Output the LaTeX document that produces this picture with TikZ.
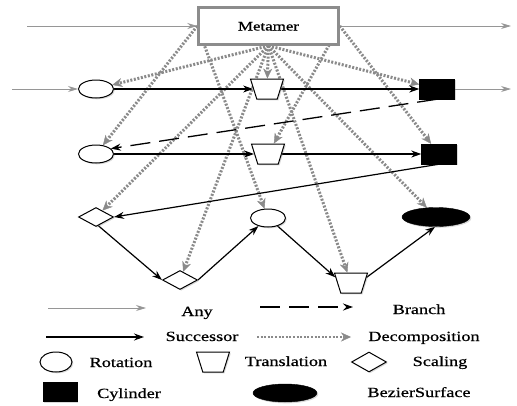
\documentclass[tikz,border=0pt]{standalone}
\usepackage{fontspec}
\usepackage{graphicx}
\setmainfont{Liberation Serif}[FakeBold=0.6]
\usetikzlibrary{shapes.geometric,arrows.meta,shadows,backgrounds}
\definecolor{anygray}{RGB}{150,150,150}
\definecolor{decgray}{RGB}{138,138,138}
\definecolor{boxgray}{RGB}{140,140,140}
\newcommand{\wtxt}[1]{\scalebox{1.3}[1]{#1}}
\begin{document}
\begin{tikzpicture}[x=1pt,y=-1pt,
  font=\fontsize{14}{16}\selectfont,
  shd/.style={drop shadow={shadow xshift=1.3pt, shadow yshift=-1.3pt, opacity=0.3}},
  shp/.style={draw=black, line width=1pt, fill=white, inner sep=0pt, shd},
  rot/.style={shp, ellipse, minimum width=35pt, minimum height=18pt},
  trans/.style={shp, trapezium, shape border rotate=180, trapezium left angle=73,
    trapezium right angle=73, trapezium stretches=true, inner sep=1pt, minimum width=33pt, minimum height=20pt},
  scal/.style={shp, diamond, minimum width=35pt, minimum height=19pt},
  cyl/.style={draw=black, fill=black, minimum width=35pt, minimum height=20pt, inner sep=0pt, shd},
  bez/.style={ellipse, draw=black, fill=black, minimum width=68pt, minimum height=19pt, inner sep=0pt, shd},
  anyarr/.style={draw=anygray, line width=0.8pt, -{Stealth[length=10pt,width=6pt,fill=anygray]}},
  succ/.style={draw=black, line width=1.2pt, -{Stealth[length=10pt,width=7pt]}},
  branch/.style={draw=black, line width=1.3pt, dash pattern=on 20pt off 9pt, -{Stealth[length=10pt,width=7pt]}},
  decomp/.style={draw=decgray, line width=3pt, dash pattern=on 2pt off 1.6pt,
    -{Stealth[length=10pt,width=9pt,fill=decgray,line width=0.4pt]}},
  lbl/.style={anchor=base, inner sep=0pt}
]
\useasboundingbox (0,0) rectangle (517,405);

% main diagram nodes
\node[draw=boxgray, line width=2.5pt, fill=white, minimum width=140pt, minimum height=37pt, inner sep=0pt, shd] (m) at (268.5,26) {};
\node[lbl, font=\fontsize{13}{15}\selectfont] (mt) at (268.5,30.5) {\wtxt{Metamer}};

\node[rot] (c1) at (96,89) {};
\node[trans] (t1) at (267,89) {};
\node[cyl] (s1) at (437,89) {};

\node[rot] (c2) at (96,154) {};
\node[trans] (t2) at (268,154) {};
\node[cyl] (s2) at (439,154) {};

\node[scal] (d3) at (96,217) {};
\node[rot] (c3) at (268,218) {};
\node[bez] (e3) at (436,217) {};

\node[scal] (d4) at (180,280) {};
\node[trans] (t4) at (351,283) {};

\coordinate (in1) at (27,26);
\coordinate (out1) at (511,26);
\coordinate (in2) at (12,89);
\coordinate (out2) at (511,89);

% legend
\coordinate (a1) at (48,308);  \coordinate (a2) at (146,308);
\coordinate (b1) at (260,307); \coordinate (b2) at (353,307);
\coordinate (s1a) at (46,337); \coordinate (s1b) at (144,337);
\coordinate (d1a) at (257,337); \coordinate (d1b) at (351,337);
\node[lbl] (tany) at (197,316) {\wtxt{Any}};
\node[lbl] (tbr) at (419,314) {\wtxt{Branch}};
\node[lbl] (tsu) at (202,341) {\wtxt{Successor}};
\node[lbl] (tde) at (424,341) {\wtxt{Decomposition}};

\node[rot, minimum width=32pt, minimum height=20pt] (lc) at (56,362) {};
\node[lbl] (trot) at (121,367) {\wtxt{Rotation}};
\node[trans] (lt) at (213,362) {};
\node[lbl] (ttr) at (286,366) {\wtxt{Translation}};
\node[scal, minimum height=20pt] (ld) at (369,362) {};
\node[lbl] (tsc) at (440,366) {\wtxt{Scaling}};
\node[cyl, minimum width=34pt, minimum height=19pt] (ls) at (60,392) {};
\node[lbl] (tcy) at (129,398) {\wtxt{Cylinder}};
\node[bez, minimum width=64pt, minimum height=18pt] (le) at (285,393) {};
\node[lbl] (tbz) at (419,397) {\wtxt{BezierSurface}};

\begin{scope}[on background layer]
% any
\draw[anyarr] (in1) -- (m.west);
\draw[anyarr] (m.east) -- (out1);
\draw[anyarr] (in2) -- (c1.west);
\draw[anyarr] (s1.east) -- (out2);
% decomposition
\draw[decomp] (m.south) -- (c1);
\draw[decomp] (m.south) -- (t1);
\draw[decomp] (m.south) -- (s1);
\draw[decomp] (m.west) -- (c2);
\draw[decomp] (m.east) -- (t2);
\draw[decomp] (m.east) -- (s2);
\draw[decomp] (m.south) -- (d3);
\draw[decomp] (m.west) -- (c3);
\draw[decomp] (m.south) -- (e3);
\draw[decomp] (m.south) -- (d4);
\draw[decomp] (m.south) -- (t4);
% successor
\draw[succ] (c1) -- (t1);
\draw[succ] (t1) -- (s1);
\draw[succ] (c2) -- (t2);
\draw[succ] (t2) -- (s2);
\draw[succ] (s2.south) -- (d3.east);
\draw[succ] (d3.-75) -- (d4.west);
\draw[succ] (d4.east) -- (c3.-140);
\draw[succ] (c3.-40) -- (t4.160);
\draw[succ] (t4.20) -- (e3.-95);
% branch
\draw[branch] (s1.south) -- (c2.20);
% legend lines
\draw[anyarr] (a1) -- (a2);
\draw[branch] (b1) -- (b2);
\draw[succ] (s1a) -- (s1b);
\draw[decomp, line width=2pt] (d1a) -- (d1b);
\end{scope}
\end{tikzpicture}
\end{document}
